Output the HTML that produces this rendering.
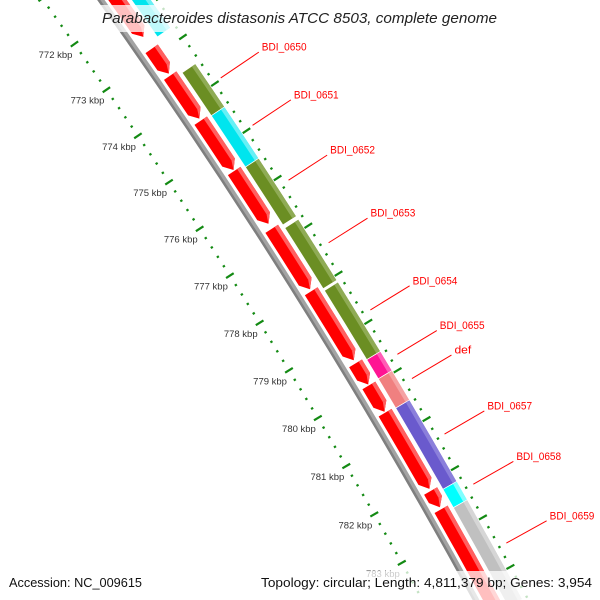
<!DOCTYPE html>
<html><head><meta charset="utf-8"><style>
html,body{margin:0;padding:0;background:#fff;width:600px;height:600px;overflow:hidden;}
svg{display:block;overflow:hidden;}
</style></head><body>
<svg id="map" width="600" height="600" viewBox="0 0 600 600" xmlns="http://www.w3.org/2000/svg">
<rect width="600" height="600" fill="#fff"/>
<g id="features"></g>
<g id="backbone"></g>
<g id="rulers"></g>
<g id="labels"></g>
<rect x="96" y="5" width="408" height="27" fill="#fff" fill-opacity="0.75"/>
<text x="102" y="23" font-family="Liberation Sans, sans-serif" font-style="italic" font-size="14.5" fill="#222" textLength="395" lengthAdjust="spacingAndGlyphs">Parabacteroides distasonis ATCC 8503, complete genome</text>
<rect x="0" y="571" width="600" height="29" fill="#fff" fill-opacity="0.75"/>
<text x="9" y="587" font-family="Liberation Sans, sans-serif" font-size="12.5" fill="#111" textLength="133" lengthAdjust="spacingAndGlyphs">Accession: NC_009615</text>
<text x="592" y="587" text-anchor="end" font-family="Liberation Sans, sans-serif" font-size="12.5" fill="#111" textLength="331" lengthAdjust="spacingAndGlyphs">Topology: circular; Length: 4,811,379 bp; Genes: 3,954</text>
</svg>
<script>
// ---- data (base pairs) ----
const redStarts = [771000, 772859, 773438, 774403, 775475, 776698, 778009, 779511, 779969, 780532, 782138, 782513];
const redEnds   = [772601, 773395, 774360, 775454, 776591, 777968, 779448, 779948, 780511, 782096, 782471, 785000];
const outerNames  = ["", "BDI_0650", "BDI_0651", "BDI_0652", "BDI_0653", "BDI_0654", "BDI_0655", "def", "BDI_0657", "BDI_0658", "BDI_0659"];
const outerStarts = [771000, 773515, 774435, 775527, 776811, 778123, 779558, 779954, 780557, 782221, 782595];
const outerEnds   = [772745, 774435, 775527, 776747, 778082, 779558, 779954, 780557, 782221, 782595, 784600];
const outerColors = ["#00e5ee", "#6b8e23", "#00e5ee", "#6b8e23", "#6b8e23", "#6b8e23", "#ff1493", "#f08080", "#6a5acd", "#00ffff", "#c0c0c0"];
const outerLight  = ["#66f0f5", "#8fab55", "#66f0f5", "#8fab55", "#8fab55", "#8fab55", "#ff5db5", "#f5a3a3", "#8b7fdb", "#80ffff", "#d6d6d6"];
const tickKbp = [772, 773, 774, 775, 776, 777, 778, 779, 780, 781, 782, 783];
const tickLabels = ["772 kbp","773 kbp","774 kbp","775 kbp","776 kbp","777 kbp","778 kbp","779 kbp","780 kbp","781 kbp","782 kbp","783 kbp"];

// ---- geometry ----
const NS = "http://www.w3.org/2000/svg";
const C = {x: -4790, y: 3475.5};
const A0 = -35.20 * Math.PI / 180;
const K = 0.537 * Math.PI / 180 / 1000;
function ang(bp){ return A0 + (bp - 772000) * K; }
function pt(r, a){ return [C.x + r * Math.cos(a), C.y + r * Math.sin(a)]; }
function f(p){ return p[0].toFixed(2) + " " + p[1].toFixed(2); }
function band(r1, r2, a1, a2){
  return "M" + f(pt(r2,a1)) + " A" + r2 + " " + r2 + " 0 0 1 " + f(pt(r2,a2)) +
         " L" + f(pt(r1,a2)) + " A" + r1 + " " + r1 + " 0 0 0 " + f(pt(r1,a1)) + " Z";
}
function mk(tag, attrs, parent){
  const el = document.createElementNS(NS, tag);
  for (const k in attrs) el.setAttribute(k, attrs[k]);
  parent.appendChild(el);
  return el;
}
const gF = document.getElementById("features");
const gB = document.getElementById("backbone");
const gR = document.getElementById("rulers");
const gL = document.getElementById("labels");

// backbone
const bA1 = ang(769000), bA2 = ang(786000);
let bb = mk("path", {d: band(5997, 6003, bA1, bA2), fill: "#a3a3a3"}, gB);


let bbd = mk("path", {d: band(5997, 5999.5, bA1, bA2), fill: "#7f7f7f"}, gB);



// red (reverse-ring) arrows
const R1 = 6006, R2 = 6021, RM = (R1 + R2) / 2;
for (let i = 0; i < redStarts.length; i++){
  const a1 = ang(redStarts[i]), a2 = ang(redEnds[i]);
  const da = Math.min(9 / RM, (a2 - a1) * 0.6);
  const d = "M" + f(pt(R1,a1)) + " A" + R1 + " " + R1 + " 0 0 1 " + f(pt(R1,a2-da)) +
            " L" + f(pt(RM,a2)) + " L" + f(pt(R2,a2-da)) +
            " A" + R2 + " " + R2 + " 0 0 0 " + f(pt(R2,a1)) + " Z";
  const p = mk("path", {d: d, fill: "#ff0000"}, gF);
  
  
  const s = mk("path", {d: band(R2 - 4, R2, a1, a2 - da) , fill: "#ff6060"}, gF);
  
  
  const t = mk("path", {d: "M" + f(pt(R2-4,a2-da)) + " L" + f(pt(R2,a2-da)) + " L" + f(pt(RM,a2)) + " Z", fill: "#ff6060"}, gF);
  
  
}

// outer ring features + labels
const G1 = 6025, G2 = 6041;
for (let i = 0; i < outerStarts.length; i++){
  const a1 = ang(outerStarts[i]), a2 = ang(outerEnds[i]);
  const p = mk("path", {d: band(G1, G2, a1, a2), fill: outerColors[i], stroke: "#fff", "stroke-width": "0.7"}, gF);
  
  
  const s = mk("path", {d: band(G2 - 4.5, G2 - 0.35, a1 + 0.00006, a2 - 0.00006), fill: outerLight[i]}, gF);
  
  
  if (outerNames[i]){
    const am = ang((outerStarts[i] + outerEnds[i]) / 2);
    const p1 = pt(6054, am), p2 = pt(6100, am);
    const ln = mk("line", {x1: p1[0].toFixed(2), y1: p1[1].toFixed(2), x2: p2[0].toFixed(2), y2: p2[1].toFixed(2), stroke: "#ff0000", "stroke-width": "1"}, gL);
    
    
    const tx = mk("text", {x: (p2[0] + 3).toFixed(2), y: (p2[1] - 1.5).toFixed(2), "font-family": "Liberation Sans, sans-serif", "font-size": "11", fill: "#ff0000", textLength: (outerNames[i].length * 5.6).toFixed(1), lengthAdjust: "spacingAndGlyphs"}, gL);
    tx.textContent = outerNames[i];
    
    
  }
}

// rulers
for (let bp = 770000; bp <= 785000; bp += 200){
  const a = ang(bp);
  const major = (bp % 1000 === 0);
  const ri = 5953, hl = major ? 4.5 : 1.2;
  let q1 = pt(ri - hl, a), q2 = pt(ri + hl, a);
  let l = mk("line", {x1: q1[0].toFixed(2), y1: q1[1].toFixed(2), x2: q2[0].toFixed(2), y2: q2[1].toFixed(2), stroke: "#138a13", "stroke-width": "2.2"}, gR);
  
  
  const ro = 6046, ho = major ? 4.5 : 1.2;
  q1 = pt(ro - ho, a); q2 = pt(ro + ho, a);
  l = mk("line", {x1: q1[0].toFixed(2), y1: q1[1].toFixed(2), x2: q2[0].toFixed(2), y2: q2[1].toFixed(2), stroke: "#138a13", "stroke-width": "2.2"}, gR);
  
  
}
for (let i = 0; i < tickKbp.length; i++){
  const p = pt(5953, ang(tickKbp[i] * 1000));
  const tx = mk("text", {x: (p[0] - 2).toFixed(2), y: (p[1] + 14).toFixed(2), "text-anchor": "end", "font-family": "Liberation Sans, sans-serif", "font-size": "9.5", fill: "#333"}, gR);
  tx.textContent = tickLabels[i];
  
  
}
</script>
</body></html>
